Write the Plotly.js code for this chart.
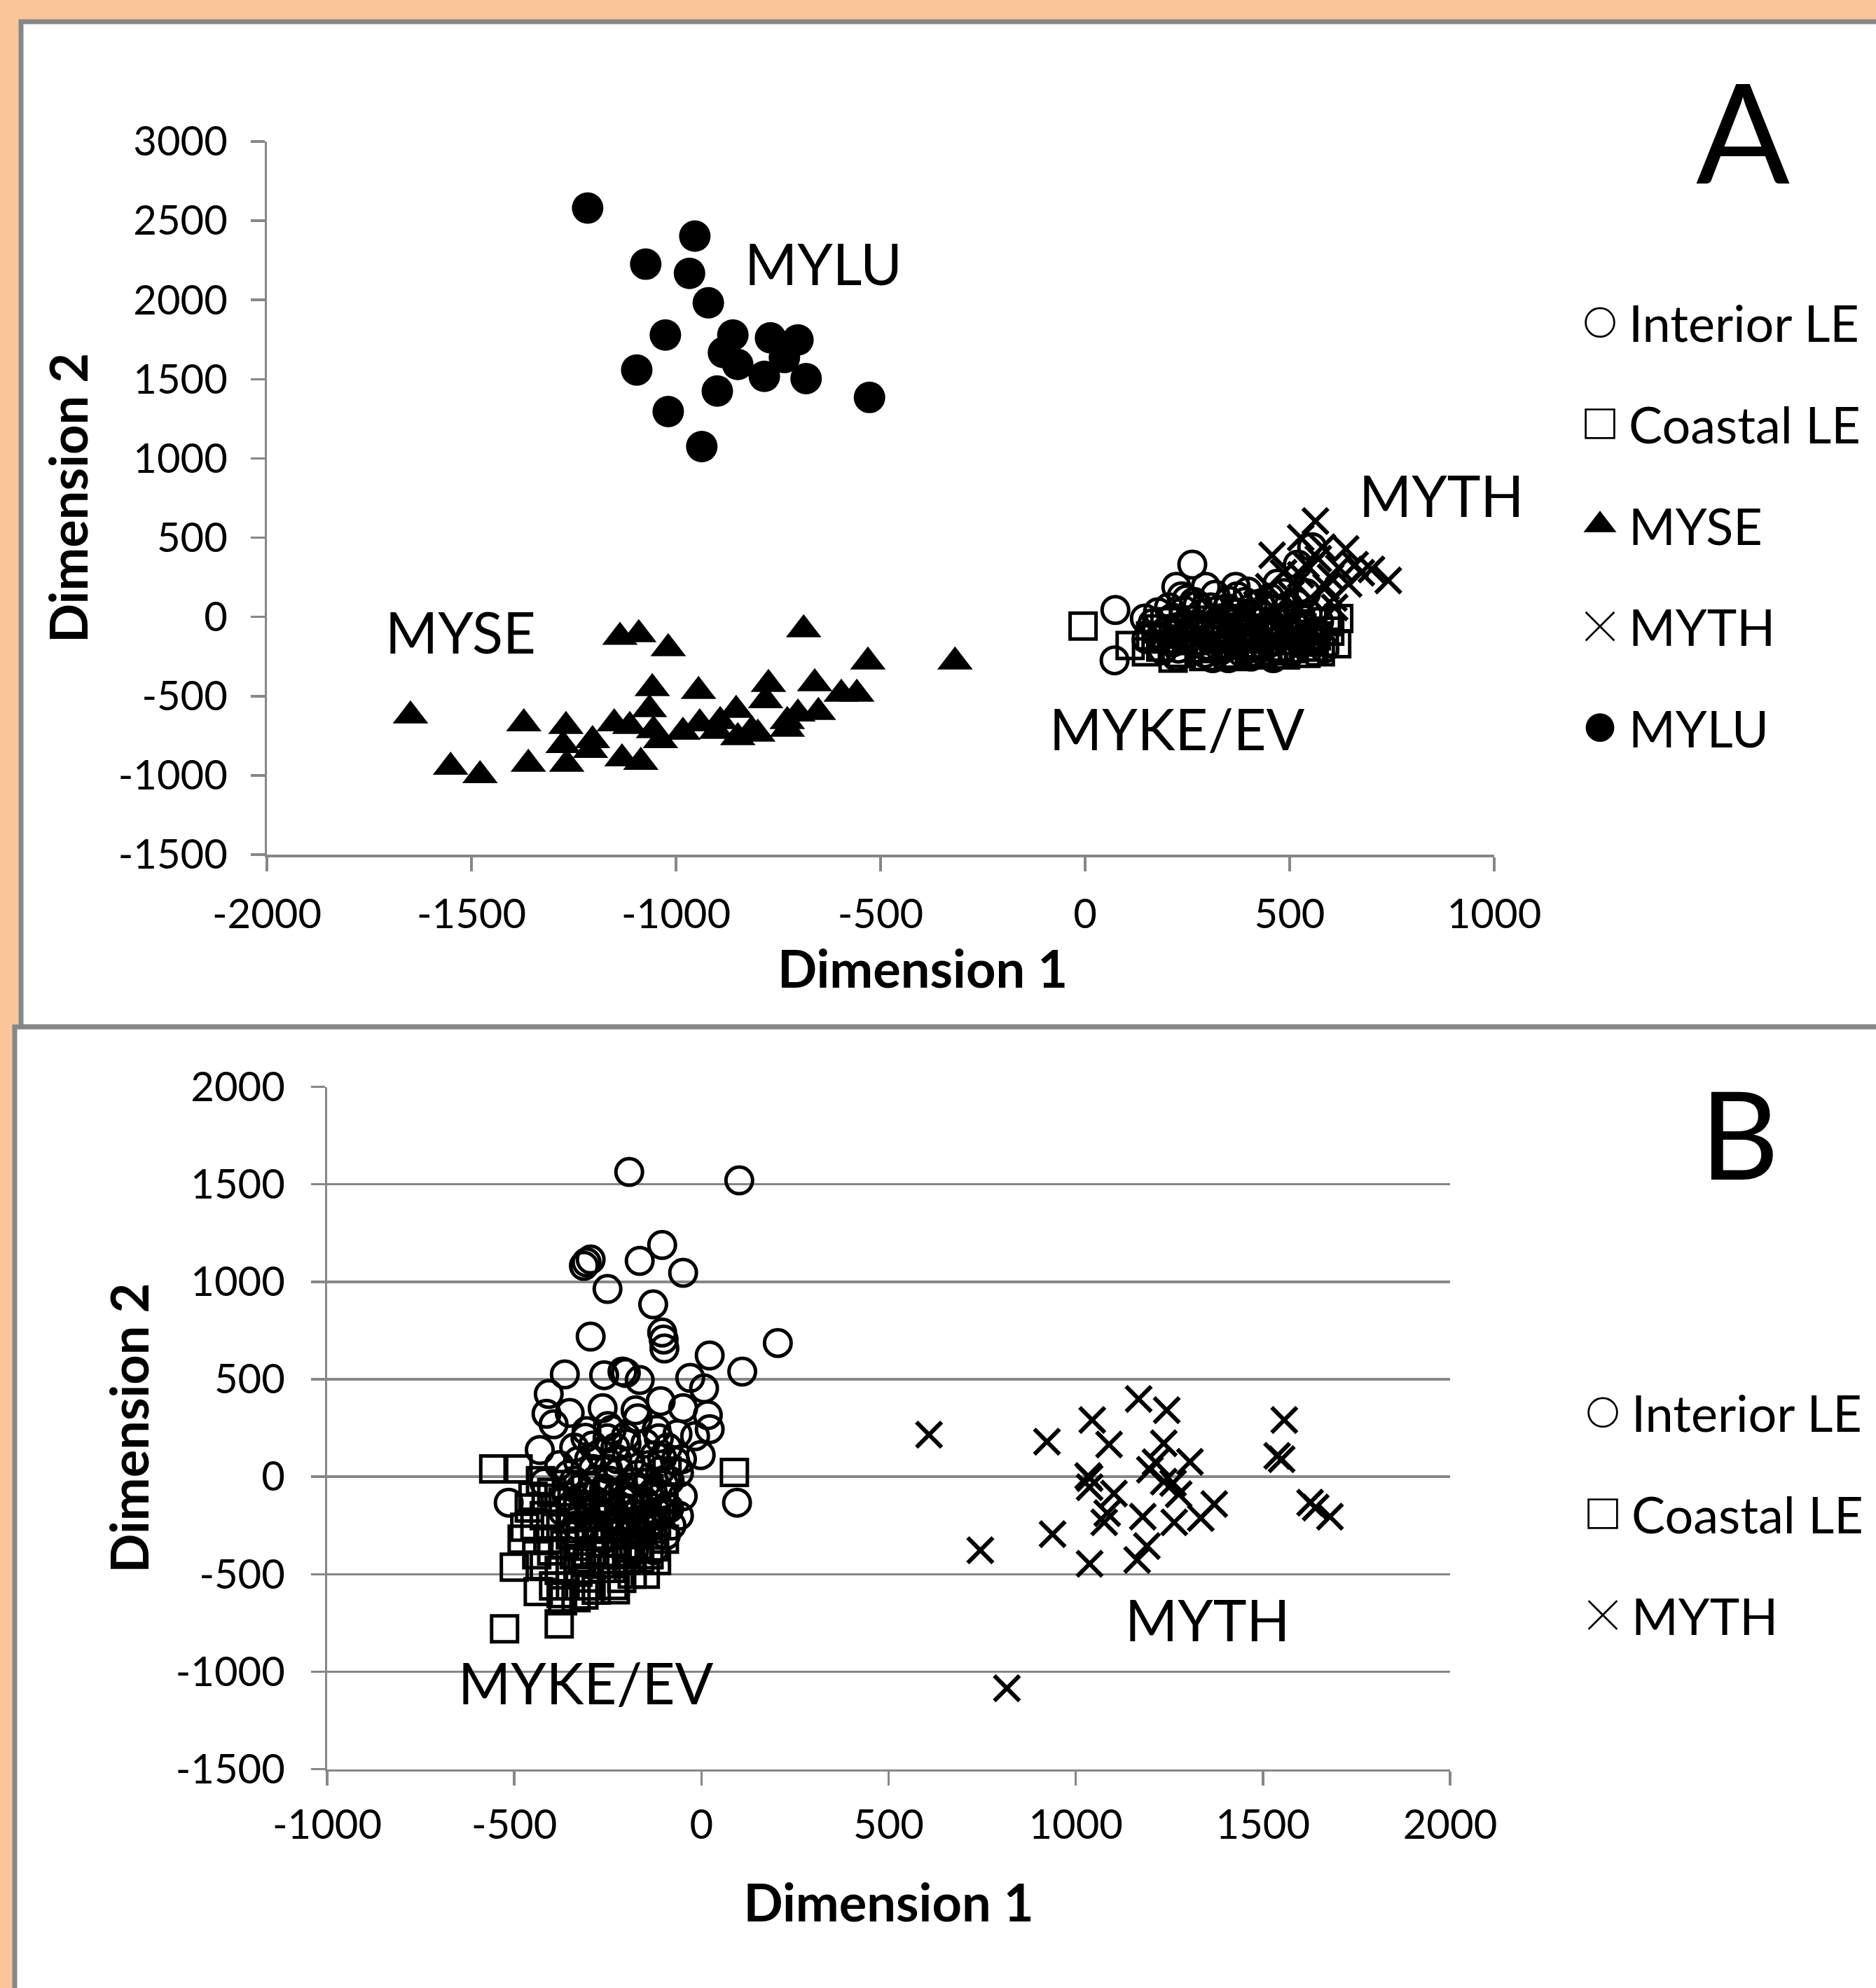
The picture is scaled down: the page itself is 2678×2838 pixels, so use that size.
<!DOCTYPE html>
<html>
<head>
<meta charset="utf-8">
<script src="https://cdn.plot.ly/plotly-3.0.1.min.js"></script>
<style>
  html, body { margin: 0; padding: 0; background: #FAC599; }
  #chart { width: 2678px; height: 2838px; }
</style>
</head>
<body>
<div id="chart"></div>
<script>
// ---------------- Panel A data ----------------
const interiorA_x = [74, 72, 146, 223, 262, 295, 368, 223, 406, 185, 205, 232, 248, 268, 284, 302, 318, 333, 347, 362, 379, 391, 408, 423, 437, 452, 466, 481, 497, 512, 528, 544, 190, 258, 312, 356, 398, 445, 505, 560, 216, 275, 340, 415, 470, 150, 470, 520, 555,
  165, 178, 196, 214, 228, 242, 256, 266, 281, 293, 307, 322, 338, 352, 366, 383, 397, 412, 428, 441, 456, 463, 478, 491, 508, 517, 533, 548, 572, 585, 236, 318, 372, 402, 486, 540, 300, 350, 460];
const interiorA_y = [44, -274, -10, 190, 330, 190, 190, -250, -250, -120, 60, -60, 110, -170, 20, -95, 140, -210, 55, -40, -150, 95, -85, 30, -190, 120, -30, -120, 70, -60, -170, 20, -210, -20, -260, -120, 160, -240, -220, -90, -160, 75, -5, -30, -100, -140, 210, 330, 440,
  -40, 30, -90, -5, -200, 40, -135, 95, -60, -230, 60, -30, -170, 100, -80, -225, 20, -140, 85, -70, -160, 50, -210, -15, -120, 85, -45, -130, -30, -200, 130, -120, 130, -200, 150, 150, -180, -260, -260];

const coastalA_x = [-5, 110, 590, 620, 615, 560, 150, 175, 200, 235, 255, 280, 305, 325, 350, 372, 395, 410, 435, 458, 475, 500, 522, 540, 565, 585, 520, 270, 380, 450, 240, 330, 490, 420, 195,
  160, 185, 215, 228, 262, 290, 315, 342, 365, 388, 402, 425, 445, 470, 488, 510, 530, 548, 575, 598, 345, 215];
const coastalA_y = [-58, -180, -30, -10, -170, -190, -220, -75, -140, -230, -100, -200, -20, -140, -235, -70, -180, 10, -120, -215, -40, -150, -10, -230, -120, -160, -110, -60, -10, -70, -20, -80, -240, -225, -30,
  -120, -190, -260, -110, -150, -250, -190, -110, -250, -130, -240, -170, -30, -190, -90, -200, -70, -140, -220, -90, -30, -75];

const myseA_x = [-1649, -1551, -1479, -1372, -1361, -1269, -1276, -1267, -1204, -1209, -1151, -1113, -1132, -1086, -1137, -1091, -1019, -1058, -1065, -1055, -1038, -945, -983, -942, -892, -853, -849, -901, -815, -774, -781, -800, -728, -702, -661, -652, -596, -558, -688, -531, -318, -728];
const myseA_y = [-624, -947, -1000, -673, -929, -690, -810, -929, -779, -841, -673, -690, -894, -916, -128, -111, -199, -451, -584, -717, -779, -469, -726, -673, -659, -588, -761, -721, -717, -425, -527, -739, -708, -611, -420, -602, -487, -487, -80, -283, -283, -659];

const mythA_x = [563, 527, 457, 637, 570, 675, 741, 620, 589, 527, 485, 644, 551, 608, 503, 449, 600, 660, 540, 580, 700, 420, 380, 470, 350, 520, 610, 440];
const mythA_y = [605, 500, 389, 429, 367, 279, 230, 310, 190, 265, 279, 208, 119, 119, 146, 190, 250, 330, 330, 440, 300, 80, 20, 30, -40, 50, 60, -60];

const myluA_x = [-1216, -954, -967, -1074, -921, -1026, -861, -769, -702, -884, -849, -784, -682, -1096, -899, -1019, -527, -937, -735];
const myluA_y = [2580, 2403, 2168, 2226, 1982, 1779, 1779, 1761, 1748, 1668, 1593, 1518, 1504, 1558, 1425, 1296, 1385, 1075, 1637];

// ---------------- Panel B data ----------------
const interiorB_x = [-193, 101, -307, -296, -314, -105, -165, -49, -251, -129, -105, -101, -99, -296, 204, 22, 109, -30, 7, -365, -260, -211, -165, -202, -408, 17, -49, -414, -352, -264, -176, -109, -432, 22, -17, -64, -114, -2, -52, -202, -251, -307, -395, 95, -515, -127, -92, -86, -105, -380, -340, -300, -260, -220, -180, -140, -100, -60, -320, -280, -240, -200, -160, -120, -80, -360, -420, -230, -150, -310, -90, -50, -270, -190,
  -340, -300, -250, -215, -170, -130, -95, -70, -285, -335, -195, -150, -240, -200, -120, -370, -60, -260, -180, -110,
  -355, -325, -290, -275, -245, -225, -205, -185, -165, -145, -125, -105, -85, -345, -305, -265, -225, -185, -145, -250, -170, -330, -210, -290, -130];
const interiorB_y = [1563, 1520, 1100, 1114, 1082, 1189, 1107, 1046, 963, 884, 740, 704, 658, 719, 686, 622, 539, 507, 453, 525, 521, 539, 496, 532, 424, 316, 352, 323, 327, 352, 341, 388, 137, 244, 208, 219, 197, 111, 90, 208, 197, 234, 269, -133, -133, -377, -151, -162, 97, 60, -20, 90, -60, 30, -110, 60, -40, 20, -180, -250, -150, -300, -220, -180, -250, -100, -30, 150, 170, 200, 150, -100, 120, 80,
  150, -100, 40, -230, 10, -80, -300, 80, -20, -250, -170, -130, 240, 170, 240, -180, -200, -320, -380, 30,
  10, -60, 40, -130, -20, 90, -70, -30, -160, -30, 110, -90, -20, -140, -210, -180, -260, -230, -270, 260, 300, 80, -120, 160, -230];

const coastalB_x = [-555, 88, -472, -479, -500, -526, -380, -371, -436, -281, -213, -228, -99, -92, -490, -450, -420, -400, -380, -350, -330, -320, -300, -280, -260, -250, -240, -220, -200, -190, -170, -160, -140, -130, -120, -110, -430, -390, -350, -310, -270, -180, -150, -420, -360, -163, -314, -236,
  -460, -410, -370, -340, -300, -290, -250, -230, -210, -180, -140, -120, -100, -330, -260, -200, -400, -440,
  -445, -415, -395, -365, -345, -325, -305, -285, -265, -245, -225, -205, -185, -165, -145, -125, -375, -335, -295, -255];
const coastalB_y = [40, 22, -259, -320, -464, -780, -755, -636, -589, -582, -521, -341, -320, 29, 40, -100, -200, -380, -480, -300, -150, -420, -520, -250, -400, -80, -470, -200, -430, -120, -350, -250, -60, -300, -430, -190, -20, -260, -560, -50, -340, -30, -500, -460, -40, -266, -607, -557,
  -160, -320, -130, -400, -270, -170, -300, -580, -100, -270, -400, -240, -110, -490, -200, -350, -80, -400,
  -250, -110, -560, -350, -210, -330, -440, -380, -470, -250, -400, -290, -500, -420, -200, -360, -600, -620, -560, -150];

const mythB_x = [608, 745, 816, 923, 938, 1044, 1089, 1168, 1243, 1235, 1037, 1033, 1037, 1102, 1076, 1084, 1037, 1164, 1190, 1179, 1198, 1213, 1235, 1260, 1305, 1275, 1263, 1334, 1370, 1557, 1538, 1550, 1626, 1679, 1641];
const mythB_y = [216, -377, -1085, 180, -295, 291, 165, 399, 341, 172, -7, 4, -54, -86, -234, -187, -446, -427, -356, -205, 36, 75, -25, -32, 76, -90, -234, -212, -140, 291, 107, 90, -133, -205, -158];

// ---------------- Tick labels ----------------
const tickA_x = [-2000, -1500, -1000, -500, 0, 500, 1000];
const tickA_y = [-1500, -1000, -500, 0, 500, 1000, 1500, 2000, 2500, 3000];
const tickB_x = [-1000, -500, 0, 500, 1000, 1500, 2000];
const tickB_y = [-1500, -1000, -500, 0, 500, 1000, 1500, 2000];
const labelsOf = arr => arr.map(v => String(v));   // plain hyphen minus, as in the original

// ---------------- Styling ----------------
const FONT = 'Lato, "Open Sans", sans-serif';
const GRAY = '#878787';
const BLACK = '#000000';

const symInterior = {symbol: 'circle-open', size: 38, color: BLACK, line: {width: 5, color: BLACK}};
const symCoastal = {symbol: 'square-open', size: 37, color: BLACK, line: {width: 5, color: BLACK}};
const symMyse = {symbol: 'triangle-up', size: 44, color: BLACK, line: {width: 0}};
const symMyth = {symbol: 'x-thin', size: 36, color: BLACK, line: {width: 6, color: BLACK}};
const symMylu = {symbol: 'circle', size: 45, color: BLACK, line: {width: 0}};

function tr(name, xs, ys, marker, xa, ya, legend, group) {
  return {type: 'scatter', mode: 'markers', name: name, x: xs, y: ys,
          marker: marker, xaxis: xa, yaxis: ya, legend: legend, legendgroup: group,
          hoverinfo: 'skip'};
}

const data = [
  tr('Interior LE', interiorA_x, interiorA_y, symInterior, 'x', 'y', 'legend', 'a1'),
  tr('Coastal LE', coastalA_x, coastalA_y, symCoastal, 'x', 'y', 'legend', 'a2'),
  tr('MYSE', myseA_x, myseA_y, symMyse, 'x', 'y', 'legend', 'a3'),
  tr('MYTH', mythA_x, mythA_y, symMyth, 'x', 'y', 'legend', 'a4'),
  tr('MYLU', myluA_x, myluA_y, symMylu, 'x', 'y', 'legend', 'a5'),
  tr('Interior LE', interiorB_x, interiorB_y, symInterior, 'x2', 'y2', 'legend2', 'b1'),
  tr('Coastal LE', coastalB_x, coastalB_y, symCoastal, 'x2', 'y2', 'legend2', 'b2'),
  tr('MYTH', mythB_x, mythB_y, symMyth, 'x2', 'y2', 'legend2', 'b3')
];

const W = 2678, H = 2838;
const px = v => v / W;
const py = v => 1 - v / H;

const tickFont = {family: FONT, size: 58, color: BLACK};
const titleFont = {family: FONT, size: 74, color: BLACK, weight: 'bold'};
const labelFont = {family: FONT, size: 81, color: BLACK};

function axis(extra) {
  return Object.assign({
    showline: true, linecolor: GRAY, linewidth: 3.5,
    ticks: 'outside', ticklen: 20, tickwidth: 3.5, tickcolor: GRAY,
    showgrid: false, zeroline: false, tickfont: tickFont, tickmode: 'array',
    fixedrange: true
  }, extra);
}

const legendCommon = {xanchor: 'left', yanchor: 'top',
  font: {family: FONT, size: 72, color: BLACK}, bgcolor: 'rgba(0,0,0,0)',
  borderwidth: 0, itemsizing: 'constant', itemwidth: 72, traceorder: 'grouped', tracegroupgap: 48};

const layout = {
  width: W, height: H,
  margin: {l: 0, r: 0, t: 0, b: 0, pad: 0},
  paper_bgcolor: '#FAC599',
  plot_bgcolor: 'rgba(0,0,0,0)',
  showlegend: true,
  xaxis: axis({domain: [px(381), px(2133)], range: [-2000, 1000], anchor: 'y',
               tickvals: tickA_x, ticktext: labelsOf(tickA_x), ticklabelstandoff: 12,
               title: {text: 'Dimension 1', font: titleFont, standoff: 6}}),
  yaxis: axis({domain: [py(1220), py(202)], range: [-1500, 3000], anchor: 'x',
               tickvals: tickA_y, ticktext: labelsOf(tickA_y), ticklabelstandoff: 21,
               title: {text: 'Dimension 2', font: titleFont, standoff: 20}}),
  xaxis2: axis({domain: [px(467), px(2070)], range: [-1000, 2000], anchor: 'y2',
                tickvals: tickB_x, ticktext: labelsOf(tickB_x), ticklabelstandoff: 6,
                title: {text: 'Dimension 1', font: titleFont, standoff: 56}}),
  yaxis2: axis({domain: [py(2525.6), py(1551.5)], range: [-1500, 2000], anchor: 'x2',
                tickvals: tickB_y, ticktext: labelsOf(tickB_y), ticklabelstandoff: 25,
                showgrid: true, gridcolor: GRAY, gridwidth: 3.5,
                title: {text: 'Dimension 2', font: titleFont, standoff: 15}}),
  legend: Object.assign({x: px(2243), y: py(407)}, legendCommon),
  legend2: Object.assign({x: px(2247), y: py(1963)}, legendCommon),
  shapes: [
    {type: 'rect', xref: 'paper', yref: 'paper', layer: 'below',
     x0: px(30), x1: 1.02, y0: py(1466), y1: py(31),
     fillcolor: '#FFFFFF', line: {color: GRAY, width: 7}},
    {type: 'rect', xref: 'paper', yref: 'paper', layer: 'below',
     x0: px(21), x1: 1.02, y0: -0.02, y1: py(1466),
     fillcolor: '#FFFFFF', line: {color: GRAY, width: 7}}
  ],
  annotations: [
    {text: 'A', xref: 'paper', yref: 'paper', x: px(2488), y: py(186), showarrow: false,
     xanchor: 'center', yanchor: 'middle', font: {family: FONT, size: 198, color: BLACK}},
    {text: 'B', xref: 'paper', yref: 'paper', x: px(2483), y: py(1616), showarrow: false,
     xanchor: 'center', yanchor: 'middle', font: {family: FONT, size: 174, color: BLACK}},
    {text: 'MYLU', xref: 'x', yref: 'y', x: -639, y: 2235, showarrow: false, font: labelFont},
    {text: 'MYTH', xref: 'x', yref: 'y', x: 870, y: 770, showarrow: false, font: labelFont},
    {text: 'MYSE', xref: 'x', yref: 'y', x: -1527, y: -93, showarrow: false, font: labelFont},
    {text: 'MYKE/EV', xref: 'x', yref: 'y', x: 226, y: -704, showarrow: false, font: labelFont},
    {text: 'MYTH', xref: 'x2', yref: 'y2', x: 1351, y: -729, showarrow: false, font: labelFont},
    {text: 'MYKE/EV', xref: 'x2', yref: 'y2', x: -309, y: -1053, showarrow: false, font: labelFont}
  ]
};

const gd = document.getElementById('chart');
Plotly.newPlot(gd, data, layout, {displayModeBar: false, staticPlot: true}).then(function () {
  // enlarge legend symbols to match the original's big legend markers
  gd.querySelectorAll('.legendpoints path.scatterpts').forEach(function (p) {
    var t = p.getAttribute('transform') || '';
    p.setAttribute('transform', t + ' scale(3.4)');
    p.style.strokeWidth = '0.8px';
  });
  // the original places panel A's x-axis title right of the axis centre
  gd.querySelectorAll('text.xtitle').forEach(function (t) {
    var tf = t.getAttribute('transform') || '';
    t.setAttribute('transform', 'translate(60,0) ' + tf);
  });
});
</script>
</body>
</html>
